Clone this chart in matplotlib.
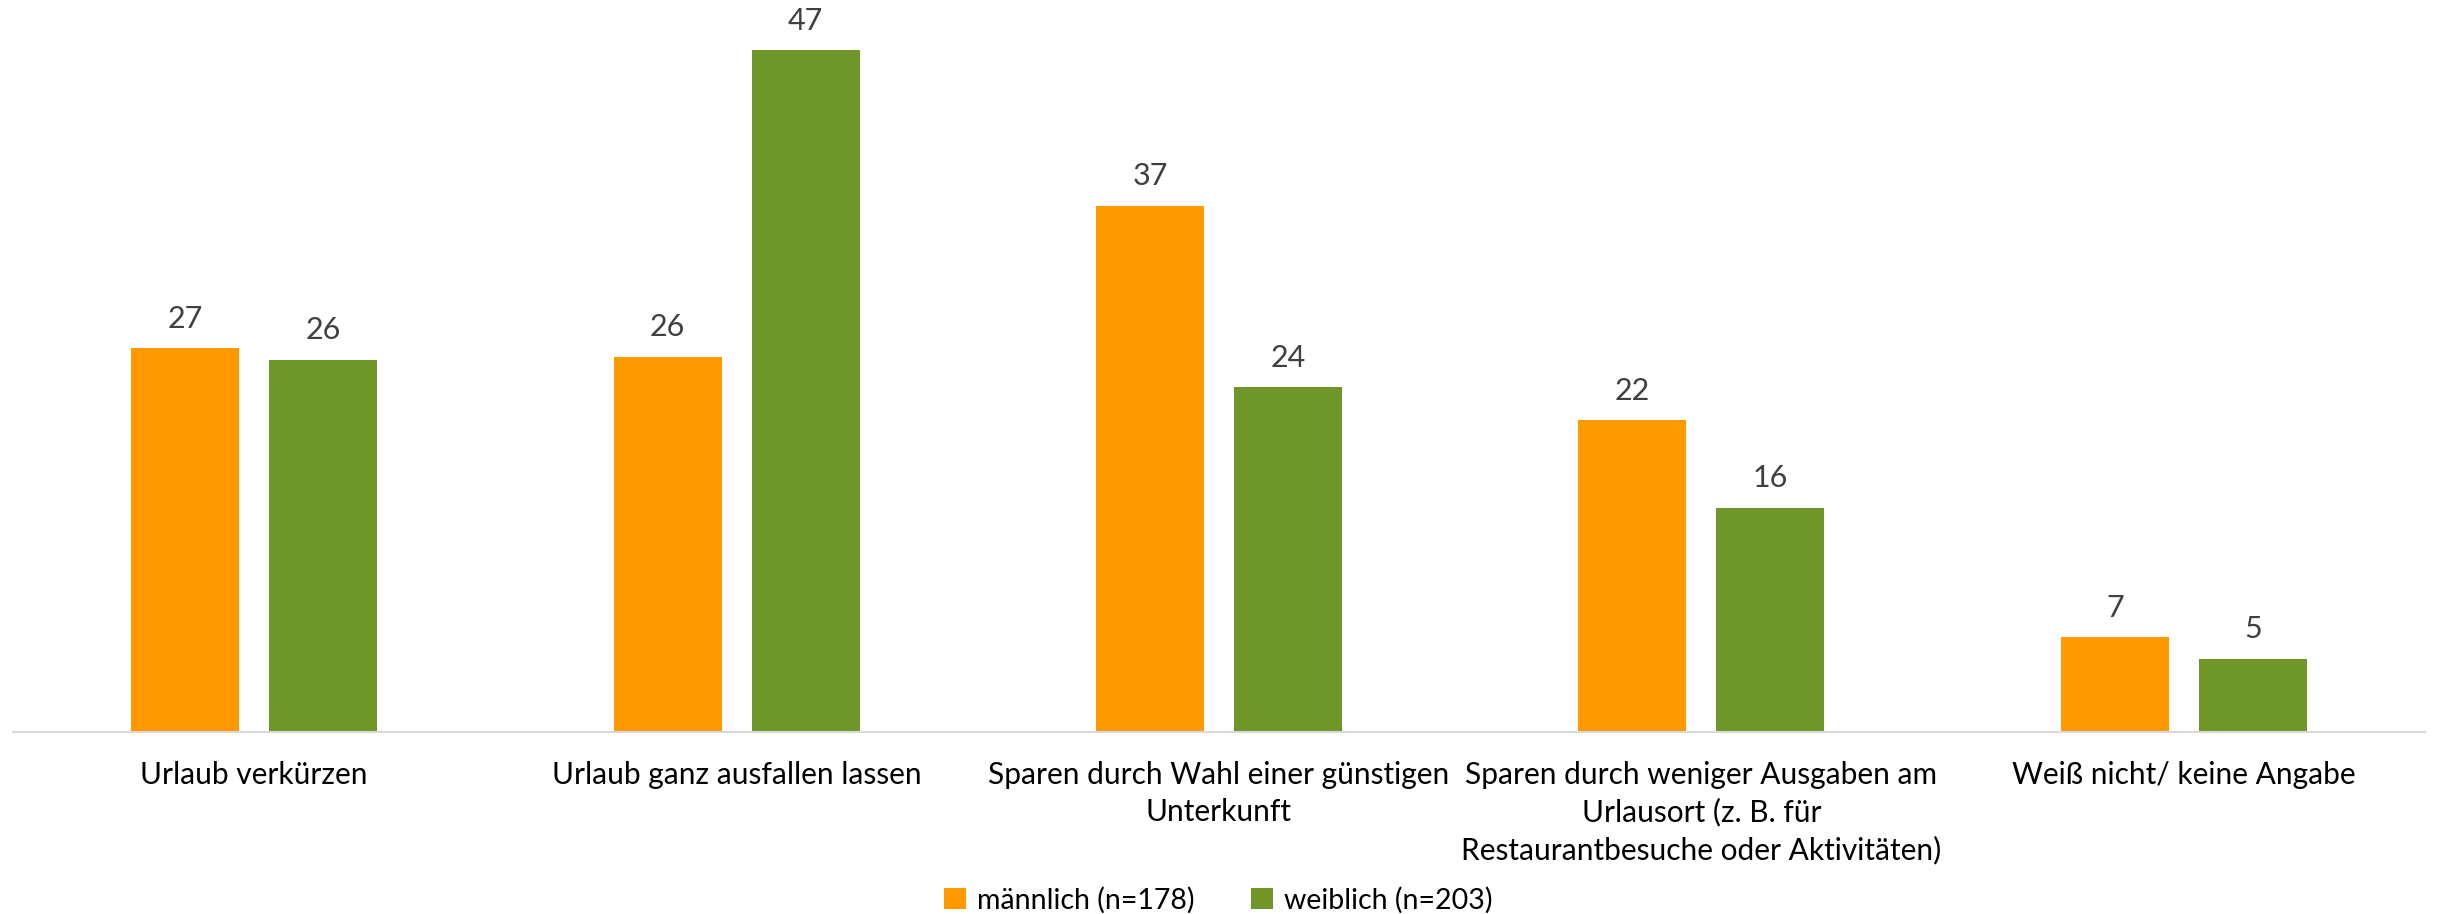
import numpy as np
import matplotlib.pyplot as plt

categories = ['Urlaub verkürzen',
              'Urlaub ganz ausfallen lassen',
              'Sparen durch Wahl einer günstigen\nUnterkunft',
              'Sparen durch weniger Ausgaben am\nUrlausort (z. B. für\nRestaurantbesuche oder Aktivitäten)',
              'Weiß nicht/ keine Angabe']
# bar heights (labels show them rounded)
maennlich = [26.7, 26.1, 36.6, 21.7, 6.6]
weiblich = [25.9, 47.4, 24.0, 15.6, 5.1]
series_names = ['männlich (n=178)', 'weiblich (n=203)']

plt.rcParams['font.family'] = ['Lato', 'DejaVu Sans']

fig = plt.figure(figsize=(24.37, 9.14), dpi=100)
ax = fig.add_axes([13 / 2437, 182 / 914, 2412 / 2437, 719 / 914])

x = np.arange(len(categories))
w = 0.224
off = 0.143
b1 = ax.bar(x - off, maennlich, w, color='#FF9900', label=series_names[0])
b2 = ax.bar(x + off, weiblich, w, color='#6E9628', label=series_names[1])

for bars in (b1, b2):
    for b in bars:
        ax.annotate(f'{b.get_height():.0f}', (b.get_x() + b.get_width() / 2, b.get_height()),
                    xytext=(0, 11), textcoords='offset points', ha='center', va='bottom',
                    fontsize=22, color='#404040')

ax.set_xlim(-0.5, len(categories) - 0.5)
ax.set_ylim(0, 50)
ax.set_xticks(x)
ax.set_xticklabels(categories, fontsize=21.5, color='#000000', linespacing=1.38)
ax.tick_params(axis='x', length=0, pad=21)
ax.set_yticks([])
for s in ['top', 'right', 'left']:
    ax.spines[s].set_visible(False)
ax.spines['bottom'].set_color('#d9d9d9')
ax.spines['bottom'].set_linewidth(1.5)

fig.legend(loc='center', bbox_to_anchor=(0.5, 14 / 914), ncol=2, frameon=False,
           fontsize=20.5, handlelength=0.75, handleheight=0.75, handletextpad=0.4,
           columnspacing=2.0)

fig.savefig('out.png', dpi=100)
